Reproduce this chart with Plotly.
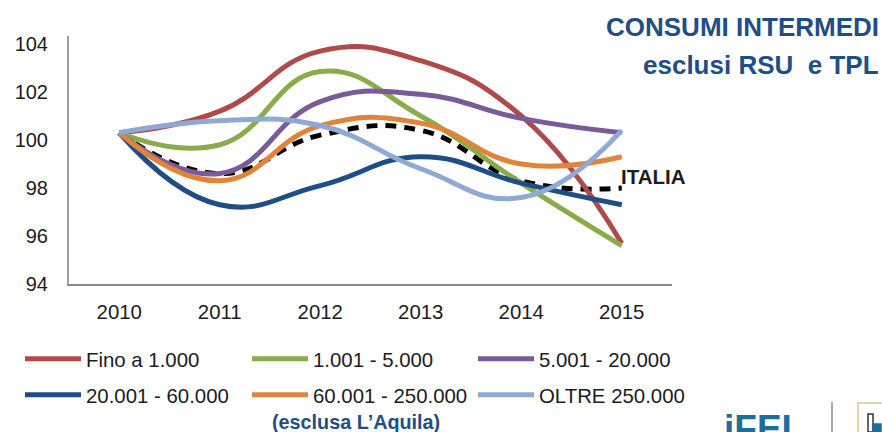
import plotly.graph_objects as go

years = ["2010", "2011", "2012", "2013", "2014", "2015"]
italia = [100.3, 98.6, 100.2, 100.4, 98.3, 98.0]
fino_1000 = [100.3, 101.2, 103.7, 103.3, 101.0, 95.7]
da_1001 = [100.3, 99.8, 102.85, 101.0, 98.2, 95.6]
da_5001 = [100.3, 98.6, 101.6, 101.9, 100.9, 100.3]
da_20001 = [100.3, 97.3, 98.1, 99.3, 98.2, 97.3]
da_60001 = [100.3, 98.3, 100.6, 100.7, 99.0, 99.3]
oltre_250000 = [100.3, 100.8, 100.6, 98.8, 97.6, 100.4]

series = [
    ("Fino a 1.000", fino_1000, "#b04a48"),
    ("1.001 - 5.000", da_1001, "#8aab4a"),
    ("5.001 - 20.000", da_5001, "#7a5a9a"),
    ("20.001 - 60.000", da_20001, "#1f4e86"),
    ("60.001 - 250.000", da_60001, "#e0843a"),
    ("OLTRE 250.000", oltre_250000, "#8fa9d4"),
]
legend_x = [20, 247, 473, 20, 247, 473]
legend_y = [359, 359, 359, 395, 395, 395]

FONT = "Liberation Sans"
NAVY = "#1f4e86"
INK = "#1c1c1c"
W, H = 882, 432


def px(v):
    return (v - 69) / 603


def py(v):
    return (284 - v) / 248


fig = go.Figure()
fig.add_trace(go.Scatter(x=years, y=italia, mode="lines", showlegend=False, name="ITALIA",
                         line=dict(color="black", width=5, dash="11px,8px", shape="spline", smoothing=1.3)))
layout_legends = {}
for i, (name, vals, col) in enumerate(series):
    key = "legend" if i == 0 else f"legend{i + 1}"
    fig.add_trace(go.Scatter(x=years, y=vals, mode="lines", name=name, legend=key,
                             line=dict(color=col, width=5, shape="spline", smoothing=1.3)))
    layout_legends[key] = dict(orientation="v", xref="container", yref="container",
                               x=legend_x[i] / W, y=1 - legend_y[i] / H,
                               xanchor="left", yanchor="middle", itemwidth=56,
                               bgcolor="rgba(0,0,0,0)", itemclick=False,
                               font=dict(family=FONT, size=20.4, color=INK))

fig.update_layout(
    width=W, height=H, margin=dict(l=69, r=210, t=36, b=148, autoexpand=False),
    paper_bgcolor="white", plot_bgcolor="white",
    font=dict(family=FONT, size=20, color=INK),
    xaxis=dict(type="category", range=[-0.5, 5.5], showgrid=False, zeroline=False, showline=True,
               linecolor="#8c8c8c", linewidth=2, ticks="", ticklabelstandoff=9,
               tickfont=dict(family=FONT, size=20.4, color=INK)),
    yaxis=dict(range=[94, 104.33], tickvals=[94, 96, 98, 100, 102, 104], showgrid=False, zeroline=False,
               showline=True, linecolor="#a0a0a0", linewidth=2, ticks="", ticklabelstandoff=15,
               tickfont=dict(family=FONT, size=20, color=INK)),
    annotations=[
        dict(text="CONSUMI INTERMEDI", xref="paper", yref="paper", x=px(881), y=py(27),
             xanchor="right", yanchor="middle", showarrow=False,
             font=dict(family=FONT, size=26, color=NAVY, weight="bold")),
        dict(text="esclusi RSU  e TPL", xref="paper", yref="paper", x=px(881), y=py(65),
             xanchor="right", yanchor="middle", showarrow=False,
             font=dict(family=FONT, size=26, color=NAVY, weight="bold")),
        dict(text="ITALIA", xref="paper", yref="paper", x=px(619), y=py(176),
             xanchor="left", yanchor="middle", showarrow=False,
             font=dict(family=FONT, size=20.5, color=INK, weight="bold")),
        dict(text="(esclusa L’Aquila)", xref="paper", yref="paper", x=px(356), y=py(422),
             xanchor="center", yanchor="middle", showarrow=False,
             font=dict(family=FONT, size=19.8, color=NAVY, weight="bold")),
        dict(text="iFEL", xref="paper", yref="paper", x=px(764), y=py(428),
             xanchor="center", yanchor="middle", showarrow=False,
             font=dict(family=FONT, size=37, color="#1a6f9c", weight="bold")),
    ],
    shapes=[
        dict(type="line", xref="paper", yref="paper", x0=px(832), x1=px(832), y0=py(402), y1=py(432),
             line=dict(color="#555555", width=1)),
        dict(type="rect", xref="paper", yref="paper", x0=px(858), x1=px(884), y0=py(403), y1=py(434),
             line=dict(color="#e3d6ac", width=2), fillcolor="white"),
        dict(type="rect", xref="paper", yref="paper", x0=px(868), x1=px(873), y0=py(414), y1=py(432),
             line=dict(color="#333333", width=1.5), fillcolor="white"),
        dict(type="rect", xref="paper", yref="paper", x0=px(873), x1=px(881), y0=py(424), y1=py(432),
             line=dict(color="#1a6f9c", width=1.5), fillcolor="#1a6f9c"),
    ],
    **layout_legends,
)
fig.write_html("out.html", config={"displayModeBar": False},
               post_script="document.body.style.margin='0';document.documentElement.style.overflow='hidden';")
